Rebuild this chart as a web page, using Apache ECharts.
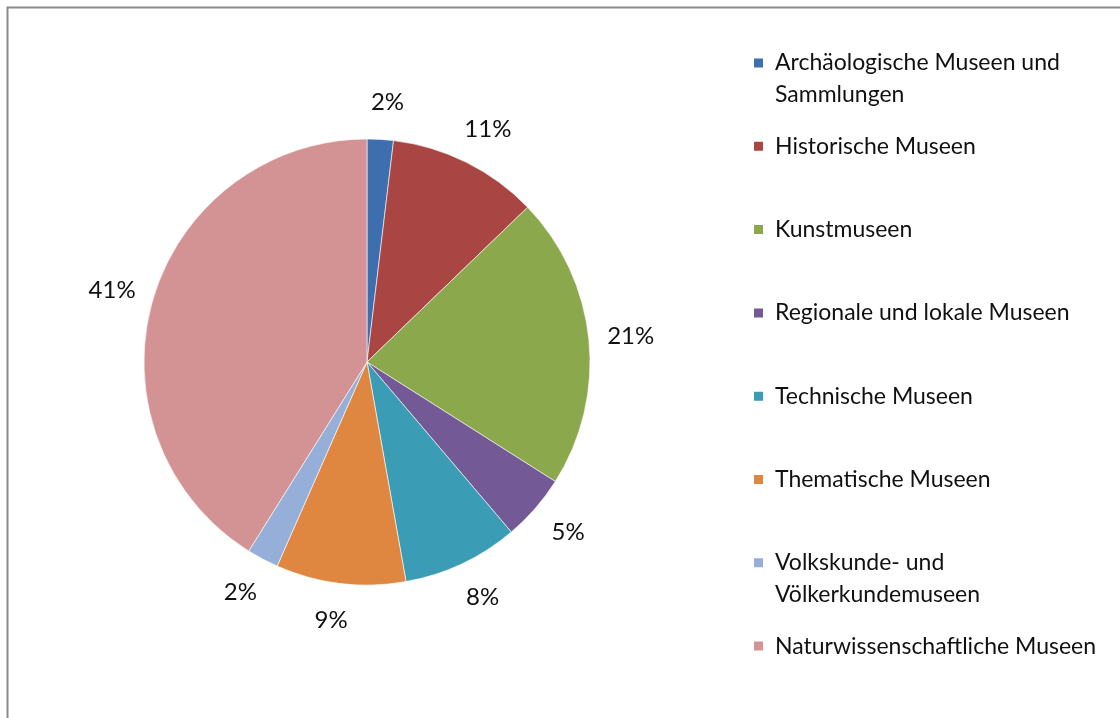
<!DOCTYPE html>
<html>
<head>
<meta charset="utf-8">
<script src="https://cdn.jsdelivr.net/npm/echarts@6/dist/echarts.min.js"></script>
<style>
html,body{margin:0;padding:0;background:#fff;}
#chart{width:1120px;height:718px;}
</style>
</head>
<body>
<div id="chart"></div>
<script>
// Data (percent shares)
var categories = [
  'Archäologische Museen und\nSammlungen',
  'Historische Museen',
  'Kunstmuseen',
  'Regionale und lokale Museen',
  'Technische Museen',
  'Thematische Museen',
  'Volkskunde- und\nVölkerkundemuseen',
  'Naturwissenschaftliche Museen'
];
var shares = [1.9, 10.9, 21.2, 4.8, 8.4, 9.4, 2.3, 41.1];
var colors = ['#3D6FAF', '#A94543', '#8BA84D', '#735995', '#3B9CB5', '#DF8741', '#96AFD8', '#D39293'];

var FONT = 'Lato';
var chart = echarts.init(document.getElementById('chart'), null, {renderer: 'canvas'});

var pieData = categories.map(function (c, i) {
  return {name: c, value: shares[i], itemStyle: {color: colors[i]}};
});

var LINE = 32;
var legends = categories.map(function (c, i) {
  var twoLine = c.indexOf('\n') >= 0;
  var markerY = 63 + i * 83.3;
  return {
    orient: 'vertical',
    left: 752,
    top: markerY - (twoLine ? 1.5 : 0.5) * LINE,
    itemWidth: 11,
    itemHeight: 11,
    itemGap: 0,
    padding: 0,
    icon: 'rect',
    selectedMode: false,
    data: [c],
    formatter: function (name) { return twoLine ? '\n' + name : name; },
    textStyle: {
      fontFamily: FONT,
      fontSize: 23,
      color: '#111',
      lineHeight: LINE,
      padding: [0, 0, 0, 6]
    }
  };
});

chart.setOption({
  backgroundColor: '#ffffff',
  animation: false,
  graphic: [{
    type: 'polyline',
    shape: {points: [[7.5, 718], [7.5, 7.5], [1120, 7.5]]},
    style: {stroke: '#8a8a8a', lineWidth: 2, fill: null}
  }],
  legend: legends,
  series: [{
    type: 'pie',
    center: [367, 362],
    radius: 223,
    startAngle: 90,
    clockwise: true,
    avoidLabelOverlap: false,
    data: pieData,
    itemStyle: {borderColor: '#ffffff', borderWidth: 0.6},
    label: {
      show: true,
      position: 'outside',
      alignTo: 'none',
      fontFamily: FONT,
      fontSize: 24,
      color: '#111',
      formatter: function (p) { return Math.round(p.value) + '%'; }
    },
    labelLine: {show: false, length: 37, length2: 0},
    labelLayout: function () {
      return {align: 'center', verticalAlign: 'middle'};
    },
    emphasis: {disabled: true}
  }]
});
</script>
</body>
</html>
